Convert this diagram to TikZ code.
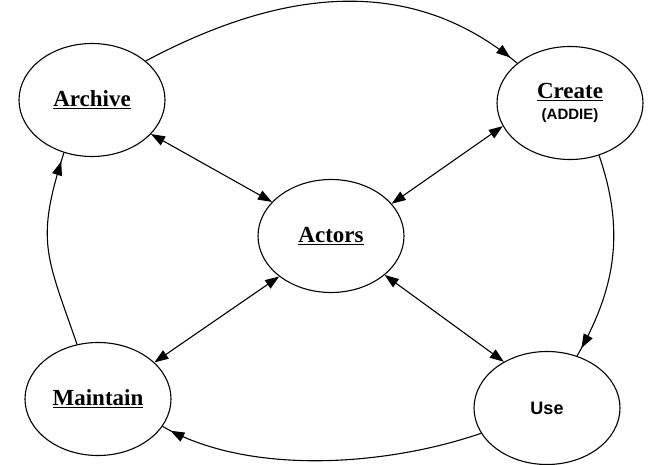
\documentclass[tikz,border=0pt]{standalone}
\usepackage{fontspec}
\setmainfont{Liberation Serif}
\setsansfont{Liberation Sans}
\usetikzlibrary{shapes.geometric,arrows.meta,decorations.markings}

\tikzset{
  phase/.style={ellipse, draw, line width=1.1pt, minimum width=146pt, minimum height=113pt, inner sep=0pt, align=center},
  both/.style={line width=1.1pt, {Triangle[length=14pt,width=10pt]}-{Triangle[length=14pt,width=10pt]}},
  cycle/.style={line width=1.1pt, postaction={decorate},
    decoration={markings, mark=at position -9pt with {\arrow{Triangle[length=14pt,width=10pt]}}}},
}

\begin{document}
\begin{tikzpicture}[x=1pt,y=1pt]
\useasboundingbox (0,0) rectangle (650,-465);
\node[phase] (archive) at (92,-100) {\fontsize{23}{26}\selectfont\bfseries\underline{Archive}};
\node[phase] (create) at (570,-103) {\fontsize{23}{26}\selectfont\bfseries\underline{Create}\\[7pt]
  \fontsize{15}{17}\selectfont\sffamily\bfseries(ADDIE)};
\node[phase] (actors) at (331,-236) {\fontsize{23}{26}\selectfont\bfseries\underline{Actors}};
\node[phase] (maintain) at (98,-399) {\fontsize{23}{26}\selectfont\bfseries\underline{Maintain}};
\node[phase] (use) at (547,-408) {\fontsize{18}{22}\selectfont\sffamily\bfseries Use};
% outer cycle
\draw[cycle] (archive.36) to[out=28, in=140] (create.143);
\draw[cycle] (create.-61) to[out=-71, in=60] (use.60);
\draw[cycle] (use.201) to[out=199, in=330, looseness=0.8] (maintain.337);
\draw[cycle] (maintain.111) to[out=109, in=252, looseness=1.25] (archive.242);
% links to the actors
\draw[both] (archive.-30) -- (actors.150);
\draw[both] (create.199) -- (actors.28);
\draw[both] (actors.218) -- (maintain.33);
\draw[both] (actors.324) -- (use.133);
\end{tikzpicture}
\end{document}
